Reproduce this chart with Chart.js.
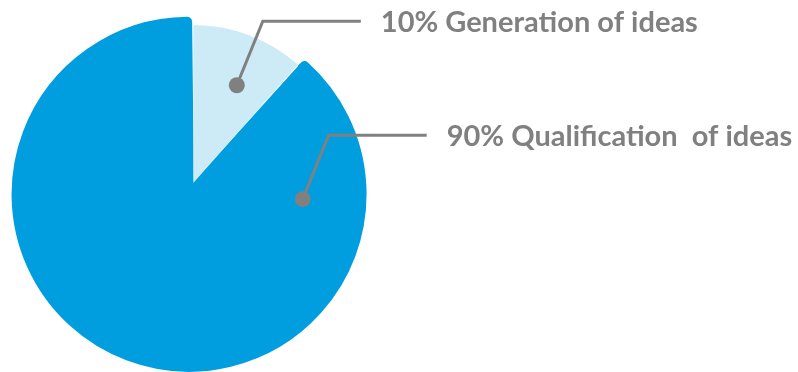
<!DOCTYPE html>
<html><head><meta charset="utf-8">
<script src="https://cdn.jsdelivr.net/npm/chart.js@4"></script>
<style>html,body{margin:0;padding:0;background:#fff}#wrap{width:798px;height:372px;position:relative}</style>
</head><body><div id="wrap"><canvas id="c"></canvas></div>
<script>
// Data: slice sizes as drawn in the picture (labels as printed on it)
const categories = ['Qualification  of ideas', 'Generation of ideas'];
const values = [88.5, 11.5];
const valueLabels = ['90%', '10%'];
const sliceColors = ['#009ddf', '#cdebf7'];

const DARK = sliceColors[0], LIGHT = sliceColors[1], GREY = '#808080';

const leaderPlugin = {
  id: 'leaders',
  afterDatasetsDraw(chart, args, opts) {
    const meta = chart.getDatasetMeta(1);
    const ctx = chart.ctx;
    ctx.save();
    meta.data.forEach((arc, i) => {
      const a = opts.anchors[i];
      const ang = (a.angle - 90) * Math.PI / 180;
      const r = arc.outerRadius * a.frac;
      const x = arc.x + Math.cos(ang) * r, y = arc.y + Math.sin(ang) * r;
      const ex = x + opts.elbow[0], ey = y + opts.elbow[1];
      const hx = ex + opts.hLen;
      ctx.strokeStyle = GREY; ctx.lineWidth = 3; ctx.lineJoin = 'miter';
      ctx.beginPath(); ctx.moveTo(x, y); ctx.lineTo(ex, ey); ctx.lineTo(hx, ey); ctx.stroke();
      ctx.fillStyle = GREY;
      ctx.beginPath(); ctx.arc(x, y, 8, 0, Math.PI * 2); ctx.fill();
      ctx.font = opts.font;
      ctx.textBaseline = 'alphabetic'; ctx.textAlign = 'left';
      ctx.fillText(valueLabels[i] + ' ' + categories[i], hx + opts.gap, ey + opts.baseline);
    });
    ctx.restore();
  }
};

const startDeg = values[1] / (values[0] + values[1]) * 360;

new Chart(document.getElementById('c'), {
  type: 'pie',
  data: {
    labels: categories,
    datasets: [
      { // thin outer ring: extends the large slice beyond the small one
        data: values, weight: 2.5,
        backgroundColor: [DARK, 'rgba(0,0,0,0)'],
        borderColor: [DARK, 'rgba(0,0,0,0)'],
        borderWidth: [10, 0], offset: [48, 0], borderJoinStyle: 'round'
      },
      {
        data: values, weight: 158,
        backgroundColor: [DARK, LIGHT],
        borderColor: [DARK, 'rgba(0,0,0,0)'],
        borderWidth: [10, 0], offset: [48, 0], borderJoinStyle: 'round'
      }
    ]
  },
  options: {
    responsive: true, maintainAspectRatio: false, animation: false, events: [],
    rotation: startDeg, radius: 160.5,
    layout: { padding: { left: 0, right: 411.4, top: 0, bottom: 6 } },
    plugins: {
      legend: { display: false }, tooltip: { enabled: false },
      leaders: {
        anchors: [{ angle: 98.4, frac: 0.70 }, { angle: 24, frac: 0.677 }],
        elbow: [26, -64], hLen: 98, gap: 20, baseline: 11,
        font: 'bold 29px Lato'
      }
    }
  },
  plugins: [leaderPlugin]
});
</script></body></html>
